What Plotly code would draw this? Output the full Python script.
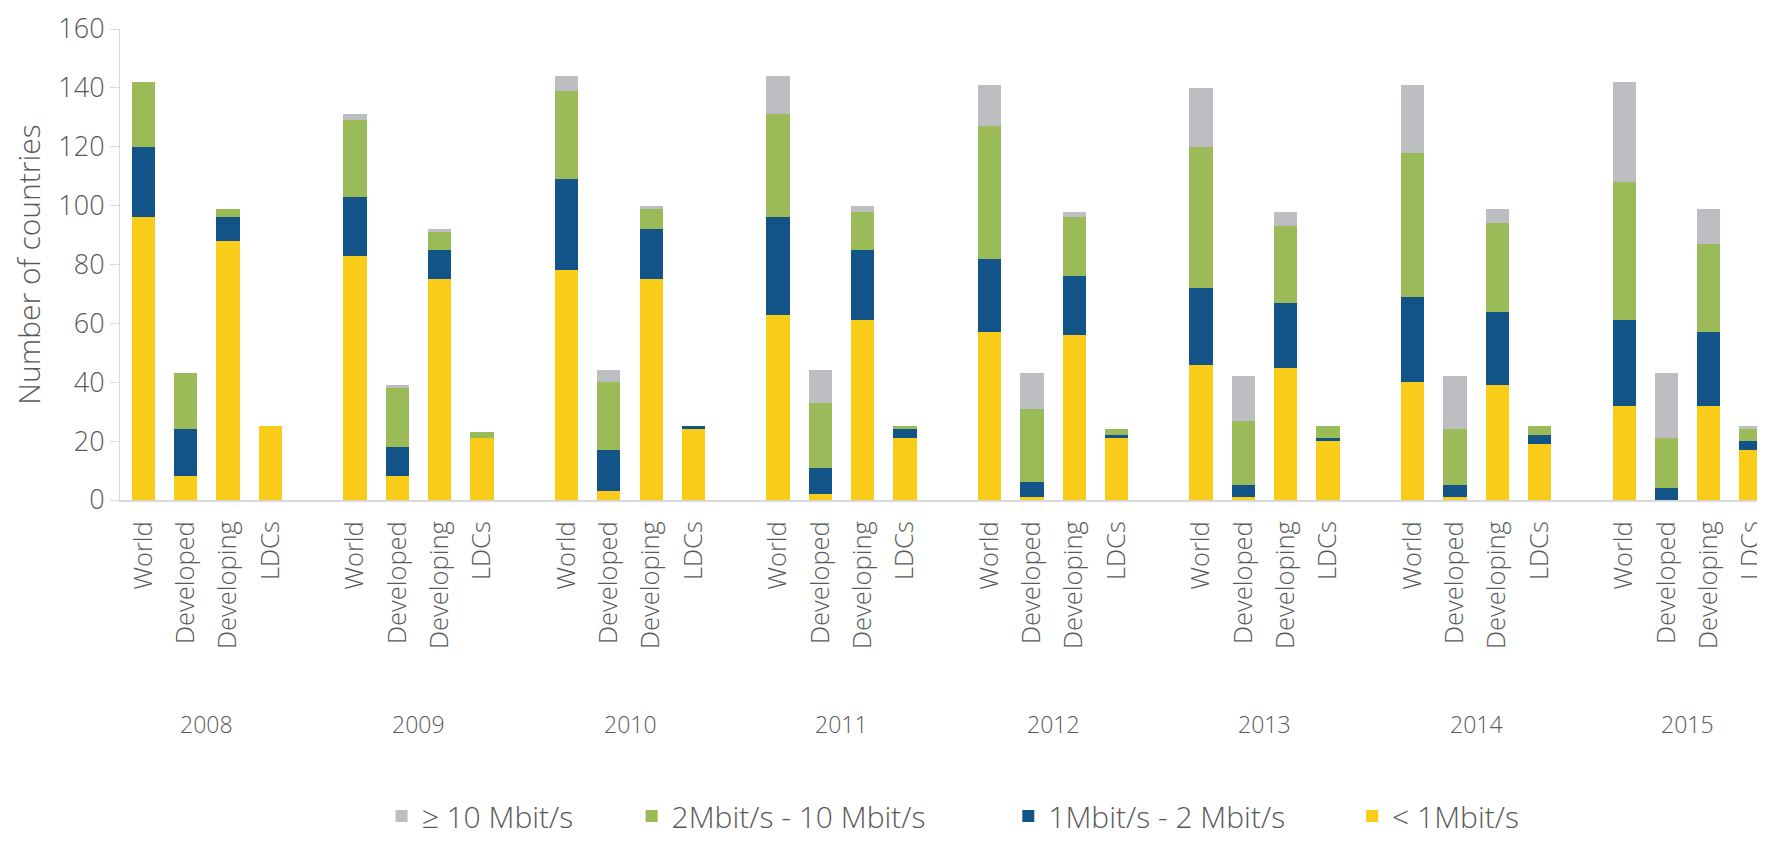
import plotly.graph_objects as go

years = ["2008", "2009", "2010", "2011", "2012", "2013", "2014", "2015"]
groups = ["World", "Developed", "Developing", "LDCs"]

# values per year, in order World, Developed, Developing, LDCs
lt1 = [96, 8, 88, 25,   83, 8, 75, 21,   78, 3, 75, 24,   63, 2, 61, 21,
       57, 1, 56, 21,   46, 1, 45, 20,   40, 1, 39, 19,   32, 0, 32, 17]
b1_2 = [24, 16, 8, 0,   20, 10, 10, 0,   31, 14, 17, 1,   33, 9, 24, 3,
        25, 5, 20, 1,   26, 4, 22, 1,   29, 4, 25, 3,   29, 4, 25, 3]
b2_10 = [22, 19, 3, 0,  26, 20, 6, 2,    30, 23, 7, 0,    35, 22, 13, 1,
         45, 25, 20, 2, 48, 22, 26, 4,   49, 19, 30, 3,   47, 17, 30, 4]
ge10 = [0, 0, 0, 0,     2, 1, 1, 0,      5, 4, 1, 0,      13, 11, 2, 0,
        14, 12, 2, 0,   20, 15, 5, 0,    23, 18, 5, 0,    34, 22, 12, 1]

series = [
    ("< 1Mbit/s", lt1, "#F9CC1A"),
    ("1Mbit/s - 2 Mbit/s", b1_2, "#135488"),
    ("2Mbit/s - 10 Mbit/s", b2_10, "#9BBB59"),
    ("≥ 10 Mbit/s", ge10, "#BDBEC1"),
]
legend_ids = ["legend4", "legend3", "legend2", "legend"]
legend_x = [0.749, 0.540, 0.311, 0.159]

# x positions: 4 bars per year plus one empty slot between years
xpos = []
xlabels = []
for yi, y in enumerate(years):
    for gi, g in enumerate(groups):
        xpos.append(yi * 5 + gi)
        xlabels.append(g)

FONT = "Open Sans"
TXT = "#595959"

def f(size):
    return dict(family=FONT, size=size, color=TXT, weight=300)

fig = go.Figure()
for (name, vals, col), lid in zip(series, legend_ids):
    fig.add_trace(go.Bar(
        x=xpos, y=vals, name=name, width=0.55, legend=lid,
        marker=dict(color=col, line=dict(width=0)),
    ))

for yi, y in enumerate(years):
    fig.add_annotation(
        x=yi * 5 + 1.5, xref="x", y=-0.476, yref="paper",
        text=y, showarrow=False, font=f(23),
        yanchor="middle", xanchor="center",
    )

leg_common = dict(orientation="h", y=-0.672, yanchor="middle",
                  xanchor="left", font=f(30), bgcolor="rgba(0,0,0,0)")
legends = {}
for lid, lx in zip(legend_ids, legend_x):
    legends[lid] = dict(leg_common, x=lx)

fig.update_layout(
    width=1757, height=834,
    margin=dict(l=112, r=0, t=21, b=331),
    barmode="stack",
    paper_bgcolor="white", plot_bgcolor="white",
    font=f(25),
    showlegend=True,
    **legends,
    xaxis=dict(
        range=[-0.556, 38.33],
        tickmode="array", tickvals=xpos, ticktext=xlabels,
        tickangle=-90, showgrid=False, zeroline=False,
        showline=True, linecolor="#D9D9D9", linewidth=2,
        ticks="", automargin=False, ticklabelstandoff=9,
        ticklabeloverflow="allow",
        tickfont=f(25.5),
    ),
    yaxis=dict(
        range=[0, 160], tickmode="linear", tick0=0, dtick=20,
        showgrid=False, zeroline=False,
        showline=True, linecolor="#D9D9D9", linewidth=1,
        ticks="outside", ticklen=9, tickcolor="#D9D9D9",
        automargin=False, tickfont=f(27),
        ticklabeloverflow="allow",
        title=dict(text="Number of countries", standoff=9, font=f(30)),
    ),
)

fig.write_html("out.html")
